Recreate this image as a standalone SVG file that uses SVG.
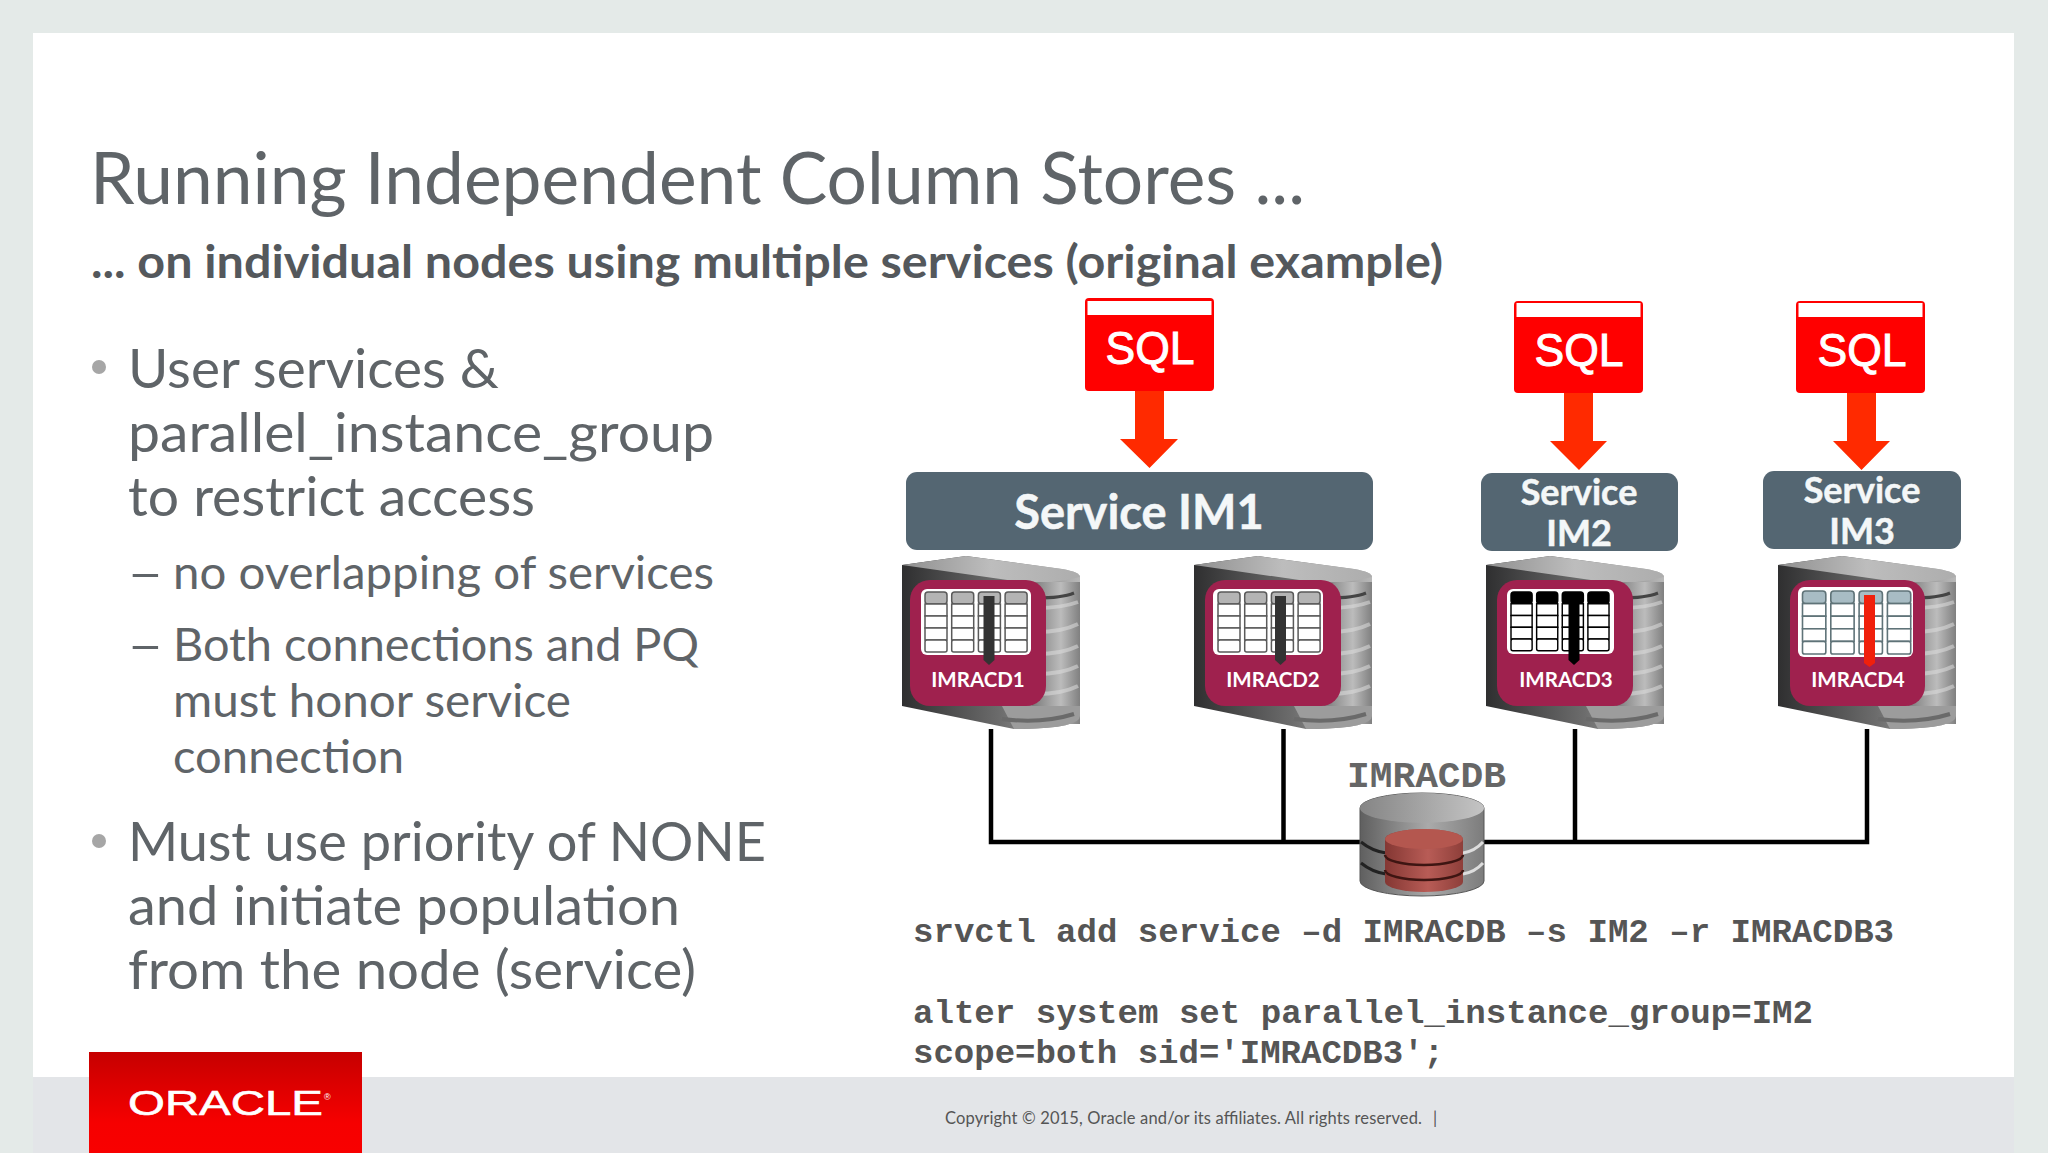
<svg xmlns="http://www.w3.org/2000/svg" width="2048" height="1153" viewBox="0 0 2048 1153">
<style>
.t{font-family:Lato,"Open Sans","Liberation Sans",sans-serif;fill:#5f6468}
.tl{font-size:72px}
.sub{font-size:46px;font-weight:700;fill:#54585c}
.b1{font-size:54px}
.b2{font-size:47px}
.code{font-family:"Liberation Mono",monospace;font-weight:700;font-size:34px;fill:#555}
.sql{font-family:"Liberation Sans",Arial,sans-serif;font-size:46px;fill:#fff;stroke:#fff;stroke-width:1;text-anchor:middle}
.svc{font-family:Lato,"Liberation Sans",sans-serif;font-weight:700;fill:#f4f7f8;stroke:#f4f7f8;stroke-width:.5;text-anchor:middle}
.cap{font-family:Lato,"Liberation Sans",sans-serif;font-weight:700;font-size:20.500px;fill:#fff;text-anchor:middle}
.s{fill:#546672}
.arrow{fill:#ff2a00}
.wire{fill:none;stroke:#000;stroke-width:4.500}
.cell{fill:#fff;stroke:var(--s);stroke-width:1.500}
.hd{fill:var(--h);stroke:var(--s);stroke-width:1.500}
</style>
<defs>
<linearGradient id="front" x1="0" x2="1" y1="0" y2="0"><stop offset="0" stop-color="#2f2f30"/><stop offset=".55" stop-color="#6c6c6c"/><stop offset="1" stop-color="#b8b8b8"/></linearGradient>
<linearGradient id="topg" x1="0" x2="1" y1="0" y2="0"><stop offset="0" stop-color="#8f8f8f"/><stop offset=".5" stop-color="#bdbdbd"/><stop offset="1" stop-color="#adadad"/></linearGradient>
<linearGradient id="side" x1="0" x2="1" y1="0" y2="0"><stop offset="0" stop-color="#7a7a7a"/><stop offset=".6" stop-color="#bcbcbc"/><stop offset="1" stop-color="#808080"/></linearGradient>
<linearGradient id="dbg" x1="0" x2="1" y1="0" y2="0"><stop offset="0" stop-color="#5f5f5f"/><stop offset=".55" stop-color="#aaa"/><stop offset="1" stop-color="#7c7c7c"/></linearGradient>
<linearGradient id="dbt" x1="0" x2="1" y1="0" y2="0"><stop offset="0" stop-color="#858585"/><stop offset="1" stop-color="#c4c4c4"/></linearGradient>
<linearGradient id="red" x1="0" x2="1" y1="0" y2="0"><stop offset="0" stop-color="#843733"/><stop offset=".55" stop-color="#b85c56"/><stop offset="1" stop-color="#8e3f3a"/></linearGradient>
<linearGradient id="logo" x1="0" x2="0" y1="0" y2="1"><stop offset="0" stop-color="#c60000"/><stop offset=".7" stop-color="#f60000"/><stop offset="1" stop-color="#f80000"/></linearGradient>
<g id="server">
<path d="M0,9 L64,0 L160,13 Q178,16 178,21 L178,160 Q178,172 120,173 L112,173 L0,150 Z" fill="url(#front)"/>
<path d="M0,9 L64,0 L160,13 Q178,16 178,21 Q150,28 126,27 Z" fill="url(#topg)"/>
<rect x="130" y="26" width="48" height="142" fill="url(#side)"/>
<path d="M134,52 Q160,52 176,46 M134,76 Q160,76 176,68 M134,98 Q160,98 176,90 M134,118 Q160,118 176,110 M134,138 Q160,138 176,130" fill="none" stroke="#ddd" stroke-width="4" opacity=".55"/>
<path d="M134,42 Q160,42 172,37" fill="none" stroke="#444" stroke-width="3"/>
<path d="M100,150 L112,173 L120,173 Q178,172 178,160 L178,150 Z" fill="#9c9c9c"/>
<path d="M100,163 Q140,168 172,158" fill="none" stroke="#6a6a6a" stroke-width="4"/>
</g>
<g id="col">
<rect class="hd" x="0" y="0" width="22" height="12" rx="3"/>
<rect class="cell" x="0" y="12" width="22" height="12"/>
<rect class="cell" x="0" y="24" width="22" height="12"/>
<rect class="cell" x="0" y="36" width="22" height="12"/>
<rect class="cell" x="0" y="48" width="22" height="12" rx="2"/>
</g>
<g id="cols">
<use href="#col" x="0"/><use href="#col" x="26.700"/><use href="#col" x="53.400"/><use href="#col" x="80.100"/>
</g>
</defs>

<rect width="2048" height="1153" fill="#e4eae8"/>
<rect x="33" y="33" width="1981" height="1044" fill="#fff"/>
<rect x="33" y="1077" width="1981" height="76" fill="#e3e5e8"/>

<g id="title">
<text class="t tl" x="90" y="204" textLength="1215" lengthAdjust="spacingAndGlyphs">Running Independent Column Stores ...</text>
<text class="t sub" x="91" y="278" textLength="1352" lengthAdjust="spacingAndGlyphs">... on individual nodes using multiple services (original example)</text>
</g>

<g id="bullets">
<circle cx="99" cy="367" r="7" fill="#a6a6a6"/>
<text class="t b1" x="128" y="388" textLength="371" lengthAdjust="spacingAndGlyphs">User services &amp;</text>
<text class="t b1" x="128" y="452" textLength="586" lengthAdjust="spacingAndGlyphs">parallel_instance_group</text>
<text class="t b1" x="128" y="516" textLength="407" lengthAdjust="spacingAndGlyphs">to restrict access</text>
<text class="t b2" transform="translate(127,589) scale(1.350,1)" x="0" y="0">–</text>
<text class="t b2" x="173" y="589" textLength="541" lengthAdjust="spacingAndGlyphs">no overlapping of services</text>
<text class="t b2" transform="translate(127,661) scale(1.350,1)" x="0" y="0">–</text>
<text class="t b2" x="173" y="661" textLength="526" lengthAdjust="spacingAndGlyphs">Both connections and PQ</text>
<text class="t b2" x="173" y="717" textLength="398" lengthAdjust="spacingAndGlyphs">must honor service</text>
<text class="t b2" x="173" y="773" textLength="231" lengthAdjust="spacingAndGlyphs">connection</text>
<circle cx="99" cy="841" r="7" fill="#a6a6a6"/>
<text class="t b1" x="128" y="861" textLength="638" lengthAdjust="spacingAndGlyphs">Must use priority of NONE</text>
<text class="t b1" x="128" y="925" textLength="552" lengthAdjust="spacingAndGlyphs">and initiate population</text>
<text class="t b1" x="128" y="989" textLength="568" lengthAdjust="spacingAndGlyphs">from the node (service)</text>
</g>

<g id="connectors">
<path class="wire" d="M991,729 V842 H1867 V729 M1283.500,729 V842 M1575,729 V842"/>
<path class="arrow" d="M1135,391 H1164 V439 H1178 L1149.500,468 L1120,439 H1135 Z"/>
<path class="arrow" d="M1564,393 H1593 V441 H1607 L1579,470 L1550,441 H1564 Z"/>
<path class="arrow" d="M1847,393 H1876 V441 H1890 L1861.500,470 L1833,441 H1847 Z"/>
</g>

<g id="sql1"><rect x="1085" y="298" width="129" height="93" rx="4" fill="#f00"/><rect x="1087.500" y="301" width="124" height="14" fill="#fff"/><text class="sql" x="1150" y="364" textLength="89" lengthAdjust="spacingAndGlyphs">SQL</text></g>
<g id="sql2"><rect x="1514" y="301" width="129" height="92" rx="4" fill="#f00"/><rect x="1516.500" y="303" width="124" height="14" fill="#fff"/><text class="sql" x="1579" y="366" textLength="89" lengthAdjust="spacingAndGlyphs">SQL</text></g>
<g id="sql3"><rect x="1796" y="301" width="129" height="92" rx="4" fill="#f00"/><rect x="1798.500" y="303" width="124" height="14" fill="#fff"/><text class="sql" x="1862" y="366" textLength="89" lengthAdjust="spacingAndGlyphs">SQL</text></g>

<g id="service-im1"><rect class="s" x="906" y="472" width="467" height="78" rx="11"/><text class="svc" x="1139" y="529" font-size="47">Service IM1</text></g>
<g id="service-im2"><rect class="s" x="1481" y="473" width="197" height="78" rx="11"/><text class="svc" x="1579" y="505" font-size="36">Service</text><text class="svc" x="1579" y="546" font-size="36">IM2</text></g>
<g id="service-im3"><rect class="s" x="1763" y="471" width="198" height="78" rx="11"/><text class="svc" x="1862" y="503" font-size="36">Service</text><text class="svc" x="1862" y="544" font-size="36">IM3</text></g>

<g id="imracd1">
<use href="#server" x="902" y="556"/>
<rect x="910" y="580" width="136" height="126" rx="20" fill="#9f214e"/>
<rect x="921" y="589" width="110" height="66" rx="6" fill="#fff"/>
<g transform="translate(925,592)" style="--h:#b4b4b4;--s:#5a5a5a"><use href="#cols"/></g>
<path d="M983.500,596 H994.500 V660 L989,665 L983.500,660 Z" fill="#333"/>
<text class="cap" x="978" y="687">IMRACD1</text>
</g>
<g id="imracd2">
<use href="#server" x="1194" y="556"/>
<rect x="1205" y="580" width="136" height="126" rx="20" fill="#9f214e"/>
<rect x="1213" y="589" width="110" height="66" rx="6" fill="#fff"/>
<g transform="translate(1218,592)" style="--h:#b4b4b4;--s:#5a5a5a"><use href="#cols"/></g>
<path d="M1275,596 H1286 V660 L1280.500,665 L1275,660 Z" fill="#333"/>
<text class="cap" x="1273" y="687">IMRACD2</text>
</g>
<g id="imracd3">
<use href="#server" x="1486" y="556"/>
<rect x="1497" y="580" width="136" height="126" rx="20" fill="#9f214e"/>
<rect x="1507" y="589" width="107" height="65" rx="6" fill="#fff"/>
<g transform="translate(1511,592) scale(.96,.98)" style="--h:#000;--s:#000"><use href="#cols"/></g>
<path d="M1568.500,596 H1579.500 V660 L1574,665 L1568.500,660 Z" fill="#000"/>
<text class="cap" x="1566" y="687">IMRACD3</text>
</g>
<g id="imracd4">
<use href="#server" x="1778" y="556"/>
<rect x="1790" y="580" width="135" height="126" rx="20" fill="#9f214e"/>
<rect x="1798" y="587" width="115" height="70" rx="6" fill="#fff"/>
<g transform="translate(1802.500,591) scale(1.060,1.050)" style="--h:#a8bcc4;--s:#5f7378"><use href="#cols"/></g>
<path d="M1864,595 H1875 V663 L1869.500,667 L1864,663 Z" fill="#f0200c"/>
<text class="cap" x="1858" y="687">IMRACD4</text>
</g>

<g id="imracdb">
<text x="1347" y="787" font-family="'Liberation Mono',monospace" font-weight="700" font-size="36" fill="#666" textLength="159" lengthAdjust="spacingAndGlyphs">IMRACDB</text>
<path d="M1360,808 A62,15 0 0 1 1484,808 V881 A62,15 0 0 1 1360,881 Z" fill="url(#dbg)" stroke="#555" stroke-width="1"/>
<ellipse cx="1422" cy="808" rx="62" ry="15" fill="url(#dbt)"/>
<path d="M1361,842 Q1372,851 1386,853 M1361,863 Q1372,872 1386,874" fill="none" stroke="#222" stroke-width="3"/>
<path d="M1463,853 Q1475,851 1483,842 M1463,874 Q1475,872 1483,863" fill="none" stroke="#ddd" stroke-width="3"/>
<path d="M1385,839 A39,10 0 0 1 1463,839 V882 A39,10 0 0 1 1385,882 Z" fill="url(#red)"/>
<ellipse cx="1424" cy="839" rx="39" ry="10" fill="#b4574f"/>
<path d="M1385,855 A39,10 0 0 0 1463,855 M1385,870 A39,10 0 0 0 1463,870" fill="none" stroke="#3e1512" stroke-width="2.500"/>
</g>

<g id="code">
<text class="code" x="913" y="942" textLength="981" lengthAdjust="spacingAndGlyphs">srvctl add service –d IMRACDB –s IM2 –r IMRACDB3</text>
<text class="code" x="913" y="1023" textLength="900" lengthAdjust="spacingAndGlyphs">alter system set parallel_instance_group=IM2</text>
<text class="code" x="913" y="1063" textLength="531" lengthAdjust="spacingAndGlyphs">scope=both sid='IMRACDB3';</text>
</g>

<g id="footer">
<rect x="89" y="1052" width="273" height="101" fill="url(#logo)"/>
<text x="128" y="1115" font-family="'Liberation Sans',Arial,sans-serif" font-size="35" fill="#fff" stroke="#fff" stroke-width=".6" textLength="195" lengthAdjust="spacingAndGlyphs">ORACLE</text>
<text x="324" y="1100" font-family="'Liberation Sans',Arial,sans-serif" font-size="9" fill="#fff">®</text>
<text x="945" y="1124" font-family="Lato,'Liberation Sans',sans-serif" font-size="16.500" fill="#555" textLength="477" lengthAdjust="spacing">Copyright © 2015, Oracle and/or its affiliates. All rights reserved.</text>
<text x="1433" y="1124" font-family="Lato,'Liberation Sans',sans-serif" font-size="16.500" fill="#555">|</text>
</g>
</svg>
